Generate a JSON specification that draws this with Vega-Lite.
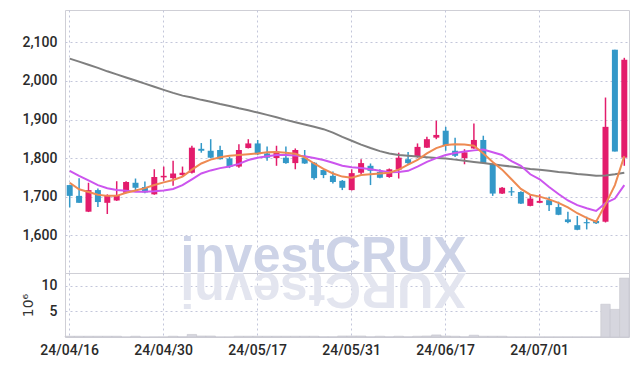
{
  "$schema": "https://vega.github.io/schema/vega-lite/v6.json",
  "background": "white",
  "padding": {"left": 20, "top": 9, "right": 8, "bottom": 5},
  "spacing": 0,
  "bounds": "flush",
  "datasets": {
    "k": [
      {"d":"24/04/16","o":1730,"h":1731,"l":1672,"c":1702,"a":1736,"b":1767,"g":2058,"v":0.15},
      {"d":"24/04/17","o":1702,"h":1748,"l":1684,"c":1684,"a":1719,"b":1754,"g":2050,"v":0.15},
      {"d":"24/04/18","o":1661,"h":1736,"l":1660,"c":1717,"a":1712,"b":1742,"g":2042,"v":0.15},
      {"d":"24/04/19","o":1717,"h":1721,"l":1673,"c":1686,"a":1705,"b":1730,"g":2034,"v":0.15},
      {"d":"24/04/22","o":1684,"h":1706,"l":1655,"c":1704,"a":1702,"b":1722,"g":2025,"v":0.15},
      {"d":"24/04/23","o":1690,"h":1740,"l":1689,"c":1704,"a":1702,"b":1717,"g":2017,"v":0.15},
      {"d":"24/04/24","o":1710,"h":1740,"l":1709,"c":1738,"a":1710,"b":1715,"g":2009,"v":0.02},
      {"d":"24/04/25","o":1736,"h":1747,"l":1717,"c":1723,"a":1716,"b":1713,"g":2001,"v":0.15},
      {"d":"24/04/26","o":1725,"h":1739,"l":1709,"c":1711,"a":1722,"b":1713,"g":1993,"v":0.0},
      {"d":"24/04/29","o":1706,"h":1771,"l":1705,"c":1751,"a":1730,"b":1714,"g":1985,"v":0.02},
      {"d":"24/04/30","o":1750,"h":1778,"l":1741,"c":1754,"a":1737,"b":1716,"g":1977,"v":0.02},
      {"d":"24/05/02","o":1748,"h":1793,"l":1728,"c":1760,"a":1743,"b":1720,"g":1969,"v":0.15},
      {"d":"24/05/03","o":1756,"h":1778,"l":1754,"c":1762,"a":1752,"b":1730,"g":1962,"v":0.05},
      {"d":"24/05/07","o":1762,"h":1832,"l":1760,"c":1827,"a":1770,"b":1745,"g":1957,"v":0.5},
      {"d":"24/05/08","o":1824,"h":1839,"l":1814,"c":1819,"a":1786,"b":1760,"g":1951,"v":0.2},
      {"d":"24/05/09","o":1819,"h":1849,"l":1800,"c":1801,"a":1796,"b":1768,"g":1946,"v":0.2},
      {"d":"24/05/10","o":1821,"h":1832,"l":1796,"c":1797,"a":1802,"b":1774,"g":1940,"v":0.02},
      {"d":"24/05/13","o":1799,"h":1803,"l":1774,"c":1777,"a":1806,"b":1778,"g":1935,"v":0.02},
      {"d":"24/05/14","o":1778,"h":1836,"l":1775,"c":1821,"a":1808,"b":1785,"g":1929,"v":0.15},
      {"d":"24/05/16","o":1826,"h":1849,"l":1825,"c":1838,"a":1810,"b":1795,"g":1924,"v":0.15},
      {"d":"24/05/17","o":1838,"h":1847,"l":1808,"c":1810,"a":1812,"b":1801,"g":1918,"v":0.15},
      {"d":"24/05/20","o":1812,"h":1830,"l":1793,"c":1801,"a":1815,"b":1805,"g":1912,"v":0.15},
      {"d":"24/05/21","o":1800,"h":1832,"l":1780,"c":1817,"a":1816,"b":1808,"g":1906,"v":0.15},
      {"d":"24/05/22","o":1801,"h":1830,"l":1785,"c":1787,"a":1814,"b":1808,"g":1899,"v":0.15},
      {"d":"24/05/23","o":1787,"h":1825,"l":1771,"c":1821,"a":1811,"b":1807,"g":1893,"v":0.15},
      {"d":"24/05/24","o":1801,"h":1821,"l":1785,"c":1786,"a":1802,"b":1805,"g":1887,"v":0.15},
      {"d":"24/05/27","o":1788,"h":1790,"l":1744,"c":1748,"a":1786,"b":1800,"g":1881,"v":0.15},
      {"d":"24/05/28","o":1769,"h":1770,"l":1748,"c":1756,"a":1772,"b":1795,"g":1875,"v":0.05},
      {"d":"24/05/29","o":1754,"h":1765,"l":1734,"c":1738,"a":1760,"b":1788,"g":1866,"v":0.05},
      {"d":"24/05/30","o":1741,"h":1743,"l":1717,"c":1723,"a":1752,"b":1780,"g":1855,"v":0.2},
      {"d":"24/05/31","o":1717,"h":1771,"l":1716,"c":1761,"a":1749,"b":1776,"g":1845,"v":0.2},
      {"d":"24/06/03","o":1762,"h":1797,"l":1758,"c":1787,"a":1756,"b":1774,"g":1835,"v":0.2},
      {"d":"24/06/04","o":1780,"h":1786,"l":1730,"c":1767,"a":1758,"b":1771,"g":1826,"v":0.05},
      {"d":"24/06/05","o":1764,"h":1771,"l":1748,"c":1749,"a":1760,"b":1767,"g":1818,"v":0.15},
      {"d":"24/06/07","o":1751,"h":1773,"l":1749,"c":1771,"a":1762,"b":1763,"g":1812,"v":0.05},
      {"d":"24/06/10","o":1770,"h":1814,"l":1747,"c":1801,"a":1770,"b":1764,"g":1808,"v":0.15},
      {"d":"24/06/11","o":1797,"h":1816,"l":1782,"c":1787,"a":1783,"b":1767,"g":1806,"v":0.05},
      {"d":"24/06/12","o":1803,"h":1838,"l":1801,"c":1829,"a":1795,"b":1778,"g":1804,"v":0.15},
      {"d":"24/06/13","o":1827,"h":1855,"l":1826,"c":1849,"a":1812,"b":1790,"g":1802,"v":0.2},
      {"d":"24/06/14","o":1853,"h":1897,"l":1849,"c":1860,"a":1826,"b":1800,"g":1800,"v":0.4},
      {"d":"24/06/17","o":1871,"h":1881,"l":1819,"c":1832,"a":1834,"b":1808,"g":1799,"v":0.2},
      {"d":"24/06/18","o":1819,"h":1853,"l":1803,"c":1806,"a":1836,"b":1813,"g":1796,"v":0.15},
      {"d":"24/06/19","o":1800,"h":1823,"l":1784,"c":1815,"a":1835,"b":1817,"g":1793,"v":0.05},
      {"d":"24/06/20","o":1825,"h":1890,"l":1824,"c":1847,"a":1832,"b":1820,"g":1790,"v":0.35},
      {"d":"24/06/21","o":1847,"h":1858,"l":1786,"c":1787,"a":1812,"b":1822,"g":1787,"v":0.15},
      {"d":"24/06/24","o":1784,"h":1786,"l":1702,"c":1708,"a":1790,"b":1815,"g":1784,"v":0.15},
      {"d":"24/06/25","o":1708,"h":1725,"l":1707,"c":1723,"a":1770,"b":1808,"g":1781,"v":0.15},
      {"d":"24/06/26","o":1714,"h":1725,"l":1702,"c":1711,"a":1745,"b":1792,"g":1778,"v":0.02},
      {"d":"24/06/27","o":1712,"h":1714,"l":1681,"c":1682,"a":1720,"b":1780,"g":1775,"v":0.02},
      {"d":"24/06/28","o":1676,"h":1704,"l":1675,"c":1695,"a":1705,"b":1758,"g":1772,"v":0.02},
      {"d":"24/07/01","o":1684,"h":1706,"l":1683,"c":1689,"a":1700,"b":1745,"g":1770,"v":0.02},
      {"d":"24/07/02","o":1691,"h":1700,"l":1663,"c":1678,"a":1693,"b":1725,"g":1767,"v":0.02},
      {"d":"24/07/03","o":1673,"h":1687,"l":1652,"c":1653,"a":1684,"b":1707,"g":1764,"v":0.02},
      {"d":"24/07/04","o":1641,"h":1661,"l":1631,"c":1634,"a":1672,"b":1690,"g":1762,"v":0.02},
      {"d":"24/07/05","o":1626,"h":1650,"l":1613,"c":1614,"a":1657,"b":1678,"g":1759,"v":0.02},
      {"d":"24/07/08","o":1634,"h":1648,"l":1615,"c":1631,"a":1645,"b":1670,"g":1757,"v":0.02},
      {"d":"24/07/09","o":1637,"h":1639,"l":1629,"c":1631,"a":1635,"b":1663,"g":1754,"v":0.02},
      {"d":"24/07/10","o":1635,"h":1957,"l":1633,"c":1881,"a":1680,"b":1683,"g":1755,"v":6.4},
      {"d":"24/07/11","o":2081,"h":2081,"l":1817,"c":1817,"a":1730,"b":1695,"g":1758,"v":5.4},
      {"d":"24/07/12","o":1801,"h":2060,"l":1780,"c":2055,"a":1805,"b":1730,"g":1762,"v":11.5}
    ]
  },
  "config": {
    "concat": {"spacing": 0},
    "view": {"stroke": "#cfcfd6"},
    "axis": {
      "labelFont": "Roboto",
      "labelFontWeight": 500,
      "labelFontSize": 14,
      "labelColor": "#2a2a2a",
      "gridColor": "#c3c6da",
      "gridDash": [2, 3],
      "gridWidth": 1,
      "ticks": false,
      "domain": false
    }
  },
  "vconcat": [
    {
      "width": 564,
      "height": 263,
      "layer": [
        {
          "data": {"values": [{"t": "investCRUX", "d": "24/05/28", "p": 1504}]},
          "mark": {"type": "text", "font": "Liberation Sans", "fontWeight": "bold", "fontSize": 50, "color": "#cdd3e7", "align": "center", "baseline": "alphabetic"},
          "encoding": {
            "x": {"field": "d", "type": "ordinal"},
            "y": {"field": "p", "type": "quantitative"},
            "text": {"field": "t"}
          }
        },
        {
          "data": {"name": "k"},
          "mark": {"type": "rule", "strokeWidth": 1.5},
          "encoding": {
            "x": {"field": "d", "type": "ordinal"},
            "y": {"field": "l", "type": "quantitative"},
            "y2": {"field": "h"},
            "color": {"condition": {"test": "datum.c > datum.o", "value": "#e31c6c"}, "value": "#3398c8"}
          }
        },
        {
          "data": {"name": "k"},
          "mark": {"type": "bar", "size": 6, "minBandSize": 2},
          "encoding": {
            "x": {"field": "d", "type": "ordinal"},
            "y": {"field": "o", "type": "quantitative"},
            "y2": {"field": "c"},
            "color": {"condition": {"test": "datum.c > datum.o", "value": "#e31c6c"}, "value": "#3398c8"}
          }
        },
        {
          "data": {"name": "k"},
          "mark": {"type": "line", "color": "#7f7f7f", "strokeWidth": 2},
          "encoding": {"x": {"field": "d", "type": "ordinal"}, "y": {"field": "g", "type": "quantitative"}}
        },
        {
          "data": {"name": "k"},
          "mark": {"type": "line", "color": "#cc55ee", "strokeWidth": 2},
          "encoding": {"x": {"field": "d", "type": "ordinal"}, "y": {"field": "b", "type": "quantitative"}}
        },
        {
          "data": {"name": "k"},
          "mark": {"type": "line", "color": "#ee8a52", "strokeWidth": 2},
          "encoding": {"x": {"field": "d", "type": "ordinal"}, "y": {"field": "a", "type": "quantitative"}}
        }
      ],
      "encoding": {
        "x": {
          "field": "d", "type": "ordinal",
          "scale": {"type": "band", "paddingInner": 0, "paddingOuter": 0},
          "axis": {"title": null, "labels": false, "grid": true, "minExtent": 0, "maxExtent": 0, "labelPadding": 0, "values": ["24/04/16","24/04/30","24/05/17","24/05/31","24/06/17","24/07/01"]}
        },
        "y": {
          "type": "quantitative",
          "scale": {"domain": [1502, 2184], "nice": false, "zero": false},
          "axis": {"title": null, "values": [1600, 1700, 1800, 1900, 2000, 2100], "labelExpr": "format(datum.value, ',')", "labelPadding": 8}
        }
      }
    },
    {
      "width": 564,
      "height": 64,
      "layer": [
        {
          "data": {"values": [{"t": "XURCtsevni", "d": "24/05/28", "v": 12.5}]},
          "mark": {"type": "text", "font": "Liberation Sans", "fontWeight": "bold", "fontSize": 50, "color": "#e3e5ef", "align": "center", "baseline": "alphabetic", "angle": 180},
          "encoding": {
            "x": {"field": "d", "type": "ordinal"},
            "y": {"field": "v", "type": "quantitative"},
            "text": {"field": "t"}
          }
        },
        {
          "data": {"name": "k"},
          "mark": {"type": "bar", "color": "#d6d6de", "stroke": "#c4c4cc", "strokeWidth": 0.6},
          "encoding": {
            "x": {"field": "d", "type": "ordinal"},
            "y": {"field": "v", "type": "quantitative"}
          }
        }
      ],
      "encoding": {
        "x": {
          "field": "d", "type": "ordinal",
          "scale": {"type": "band", "paddingInner": 0, "paddingOuter": 0},
          "axis": {"title": null, "labels": true, "grid": true, "labelAngle": 0, "labelPadding": 6, "values": ["24/04/16","24/04/30","24/05/17","24/05/31","24/06/17","24/07/01"]}
        },
        "y": {
          "type": "quantitative",
          "scale": {"domain": [0, 12.5], "nice": false},
          "axis": {"title": "10⁶", "titleFont": "DejaVu Sans", "titleFontWeight": "normal", "titleFontSize": 14, "titleColor": "#333", "titlePadding": 6, "values": [5, 10], "labelPadding": 8}
        }
      }
    }
  ]
}
